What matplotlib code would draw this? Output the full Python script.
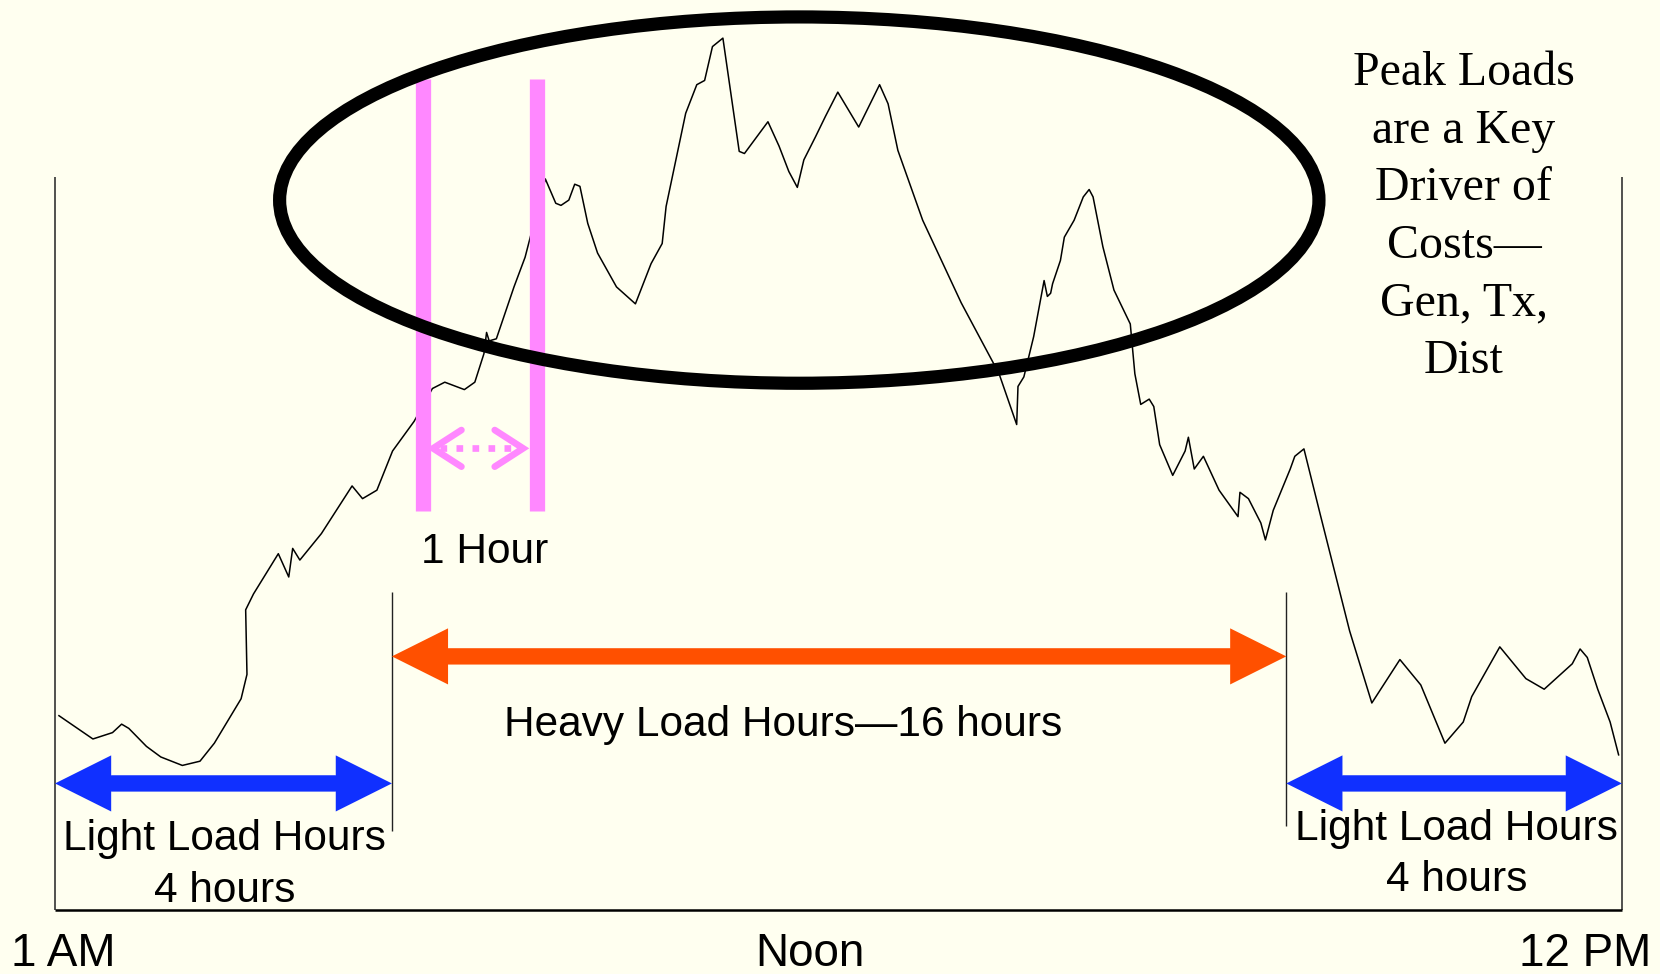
import matplotlib
matplotlib.use("Agg")
import matplotlib.pyplot as plt
from matplotlib.patches import Ellipse

# hour of day (0 = 1 AM at left edge, 24 = right edge) and load (arbitrary units)
hours = [0.06, 0.58, 0.88, 1.02, 1.13, 1.40, 1.62, 1.95, 2.22, 2.44,
         2.85, 2.94, 2.92, 3.04, 3.42, 3.58, 3.64, 3.75, 4.08, 4.55,
         4.71, 4.93, 5.17, 5.50, 5.78, 5.97, 6.27, 6.43, 6.57, 6.61,
         6.65, 6.76, 7.03, 7.20, 7.51, 7.67, 7.75, 7.87, 7.96, 8.04,
         8.16, 8.31, 8.60, 8.89, 9.13, 9.30, 9.36, 9.51, 9.66, 9.83,
         9.95, 10.07, 10.23, 10.48, 10.56, 10.92, 11.09, 11.24, 11.37, 11.47,
         11.65, 11.80, 11.99, 12.31, 12.63, 12.76, 12.91, 13.29, 13.88, 14.46,
         14.73, 14.75, 14.84, 14.99, 15.15, 15.20, 15.25, 15.28, 15.40, 15.46,
         15.61, 15.75, 15.84, 15.90, 16.05, 16.22, 16.47, 16.54, 16.63, 16.76,
         16.83, 16.92, 17.12, 17.31, 17.36, 17.45, 17.59, 17.83, 18.12, 18.15,
         18.28, 18.47, 18.54, 18.66, 18.92, 18.99, 19.13, 19.38, 19.83, 20.17,
         20.60, 20.92, 21.29, 21.57, 21.70, 22.13, 22.53, 22.81, 23.24, 23.36,
         23.47, 23.63, 23.82, 23.95]
load = [184, 162, 168, 176, 172, 155, 145, 137, 141, 158,
        200, 223, 284, 299, 337, 315, 342, 331, 356, 401,
        389, 397, 434, 462, 493, 499, 492, 499, 526, 546,
        538, 540, 589, 617, 691, 668, 666, 671, 686, 684,
        649, 621, 589, 573, 611, 630, 665, 709, 753, 780,
        784, 816, 824, 717, 715, 745, 722, 698, 683, 709,
        731, 750, 773, 740, 780, 762, 718, 652, 574, 507,
        459, 495, 504, 542, 595, 580, 583, 592, 614, 636,
        652, 674, 681, 674, 627, 586, 554, 507, 478, 483,
        476, 440, 411, 434, 447, 417, 429, 397, 372, 395,
        389, 366, 350, 378, 417, 429, 436, 374, 264, 196,
        237, 213, 158, 178, 202, 249, 219, 209, 233, 247,
        239, 209, 178, 147]

day_start, day_end = 0, 24
heavy_start, heavy_end = 5.16, 18.86
hour_marks = [5.64, 7.38]
frame_top = 693

peak_text = ["Peak Loads", "are a Key", "Driver of", "Costs\u2014", "Gen, Tx,", "Dist"]
axis_labels = ["1 AM", "Noon", "12 PM"]

bg = "#FFFFF0"
pink = "#FF88FF"
orange = "#FF5000"
blue = "#1030FF"

plt.rcParams["font.family"] = ["Liberation Sans", "DejaVu Sans"]

fig = plt.figure(figsize=(16.6, 9.74), dpi=100, facecolor=bg)
ax = fig.add_axes([0, 0, 1, 1])
ax.set_facecolor(bg)
ax.set_xlim(-0.843, 24.584)
ax.set_ylim(-60, 860)
ax.axis("off")

# frame
ax.vlines([day_start, day_end], 0, frame_top, color="#222222", lw=1.1, zorder=1)
ax.hlines(0, day_start, day_end, color="black", lw=1.8, zorder=1)
ax.vlines([heavy_start], 75, 301, color="#222222", lw=1.0, zorder=1)
ax.vlines([heavy_end], 80, 301, color="#222222", lw=1.0, zorder=1)

# load curve
ax.plot(hours, load, color="black", lw=1.1, zorder=2)

# one-hour window
ax.vlines(hour_marks, 377, 785, color=pink, lw=11, capstyle="butt", zorder=3)
yd = 436.5
ax.plot([5.90, 7.02], [yd, yd], color=pink, lw=4.8,
        linestyle=(0, (1, 1.4)), dash_capstyle="butt", zorder=3)
for tip, d in [(5.79, 1), (7.17, -1)]:
    ax.plot([tip + d * 0.435, tip, tip + d * 0.435], [yd + 17.3, yd, yd - 17.3],
            color=pink, lw=4.8, solid_capstyle="round", solid_joinstyle="miter",
            zorder=3)

# peak ellipse
ax.add_patch(Ellipse((11.40, 671), 15.92, 346, fill=False, ec="black",
                     lw=9.5, zorder=4))

HEAD_LEN = 0.86


def double_arrow(x0, x1, y, color):
    # two overlapping single-headed arrows, each tail hidden under the other head
    for start, end in ((x0 + HEAD_LEN, x1), (x1 - HEAD_LEN, x0)):
        ax.arrow(start, y, end - start, 0, width=15, head_width=53,
                 head_length=HEAD_LEN, length_includes_head=True,
                 color=color, lw=0, zorder=3)


double_arrow(heavy_start, heavy_end, 240, orange)
double_arrow(day_start, heavy_start, 120, blue)
double_arrow(heavy_end, day_end, 120, blue)

fs = 30.5
ax.text(6.58, 328, "1 Hour", ha="center", va="baseline", fontsize=fs)
ax.text(11.16, 165, "Heavy Load Hours\u201416 hours", ha="center", va="baseline", fontsize=fs)
ax.text(2.60, 57, "Light Load Hours", ha="center", va="baseline", fontsize=fs)
ax.text(2.60, 8, "4 hours", ha="center", va="baseline", fontsize=fs)
ax.text(21.47, 66.5, "Light Load Hours", ha="center", va="baseline", fontsize=fs)
ax.text(21.47, 18, "4 hours", ha="center", va="baseline", fontsize=fs)

ax.text(-0.68, -52, axis_labels[0], ha="left", va="baseline", fontsize=33)
ax.text(11.56, -52, axis_labels[1], ha="center", va="baseline", fontsize=33)
ax.text(24.45, -52, axis_labels[2], ha="right", va="baseline", fontsize=33)

for i, line in enumerate(peak_text):
    ax.text(21.58, 779.5 - 54.4 * i, line, ha="center", va="baseline",
            fontsize=34.5, family=["Liberation Serif", "DejaVu Serif"])

fig.savefig("out.png", dpi=100, facecolor=bg)
